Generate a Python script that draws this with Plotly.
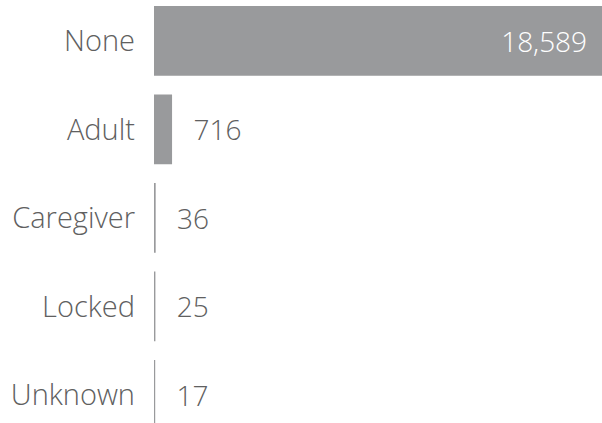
import plotly.graph_objects as go

categories = ["None", "Adult", "Caregiver", "Locked", "Unknown"]
values = [18589, 716, 36, 25, 17]

BAR = "#999a9c"
TXT = "#606060"
NB = "\u00a0"
TH = "\u2009"
FONT = "Open Sans"
FS_TICK = 29
FS_VAL = 28

x_max = 18589
texts = []
positions = []
for v in values:
    if v > x_max * 0.2:
        texts.append(f"{v:,}" + NB + TH)
        positions.append("inside")
    else:
        texts.append(NB * 2 + TH + f"{v:,}")
        positions.append("outside")

fig = go.Figure(go.Bar(
    y=categories,
    x=values,
    orientation="h",
    marker=dict(color=BAR, line=dict(width=1.6, color=BAR)),
    text=texts,
    textposition=positions,
    insidetextanchor="end",
    insidetextfont=dict(color="white", size=FS_VAL, family=FONT, weight=300),
    outsidetextfont=dict(color=TXT, size=FS_VAL, family=FONT, weight=300),
    cliponaxis=False,
    hoverinfo="skip",
))

fig.update_layout(
    width=602, height=423,
    margin=dict(l=154, r=0, t=0, b=0),
    paper_bgcolor="white", plot_bgcolor="white",
    bargap=0.23,
    showlegend=False,
    font=dict(family=FONT, color=TXT, size=FS_VAL, weight=300),
    uniformtext=dict(mode=False),
)
fig.update_xaxes(range=[0, x_max], visible=False, fixedrange=True)
fig.update_yaxes(
    type="category",
    range=[4.317, -0.463],
    showgrid=False, zeroline=False, showline=False,
    ticks="", ticklabelstandoff=18,
    tickfont=dict(family=FONT, color=TXT, size=FS_TICK, weight=300),
    fixedrange=True,
)

fig.write_html("out.html", config={"displayModeBar": False})
